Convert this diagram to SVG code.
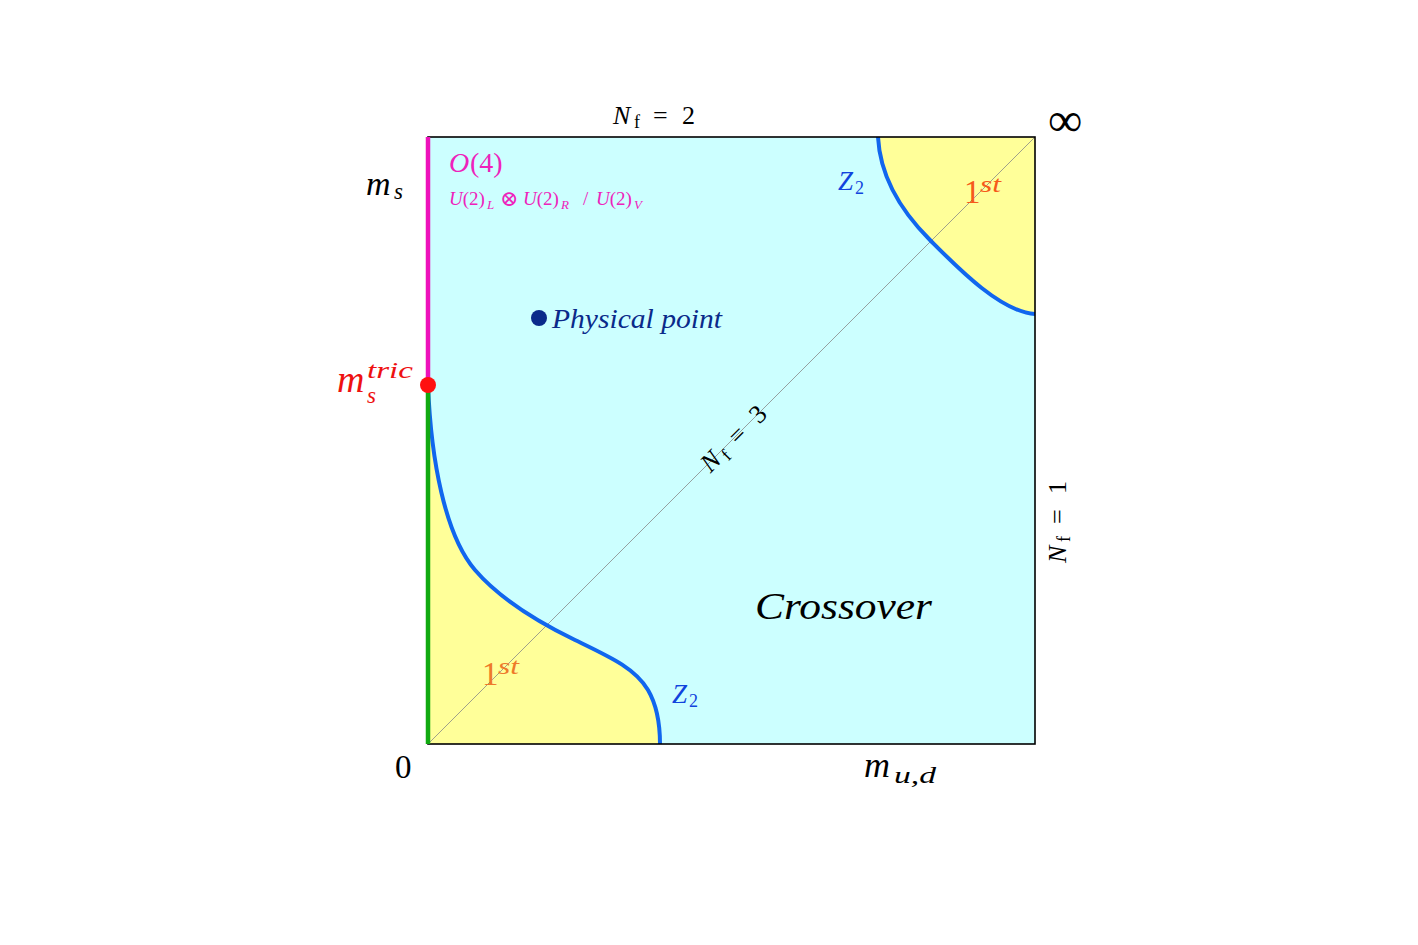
<svg xmlns="http://www.w3.org/2000/svg" width="1418" height="945" viewBox="0 0 1418 945">
<style>
.t{font-family:"Liberation Serif","DejaVu Serif",serif;fill:#000}
.i{font-style:italic}
.mag{fill:#ee22bb}
.blue{fill:#1144dd}
.org{fill:#f65a1a}
.org2{fill:#ee7a2a}
.red{fill:#ee1111}
.navy{fill:#0a2a8a}
.curve{fill:none;stroke:#1166ee;stroke-width:4}
</style>
<rect width="1418" height="945" fill="#ffffff"/>
<g id="regions">
<rect id="crossover-region" x="428" y="137" width="607" height="607" fill="#ccffff"/>
<path id="first-order-low" d="M428,385 C431,460 445,535 475,570 C500,599 540,623 575,640 C610,657 635,668 648,690 C655,702 660,720 660,744 L428,744 Z" fill="#ffff99"/>
<path id="first-order-high" d="M878,137 C880,175 900,210 930,240 C955,265 1000,312 1035,314 L1035,137 Z" fill="#ffff99"/>
</g>
<g id="connectors">
<line x1="428" y1="744" x2="1035" y2="137" stroke="#888888" stroke-width="0.8"/>
<path class="curve" d="M428,385 C431,460 445,535 475,570 C500,599 540,623 575,640 C610,657 635,668 648,690 C655,702 660,720 660,744"/>
<path class="curve" d="M878,137 C880,175 900,210 930,240 C955,265 1000,312 1035,314"/>
<rect x="428" y="137" width="607" height="607" fill="none" stroke="#000" stroke-width="1.6"/>
<line x1="428" y1="137" x2="428" y2="385" stroke="#ee11bb" stroke-width="4.5"/>
<line x1="428" y1="385" x2="428" y2="744" stroke="#11aa11" stroke-width="4.5"/>
</g>
<g id="tricritical">
<circle cx="428" cy="385" r="8" fill="#ff1111"/>
<text class="t i red" font-size="38"><tspan x="337" y="392">m</tspan><tspan x="367" y="378" font-size="24" textLength="46" lengthAdjust="spacingAndGlyphs">tric</tspan><tspan x="367" y="403" font-size="23">s</tspan></text>
</g>
<g id="physical-point">
<circle cx="539" cy="318" r="8" fill="#0a2a8a"/>
<text class="t i navy" x="552" y="328" font-size="28" textLength="170" lengthAdjust="spacingAndGlyphs">Physical point</text>
</g>
<g id="nf2">
<text class="t i" x="613" y="124" font-size="26">N</text>
<text class="t" x="634" y="128" font-size="18">f</text>
<text class="t" x="653" y="124" font-size="26">=</text>
<text class="t" x="682" y="124" font-size="26">2</text>
</g>
<g id="nf3" transform="translate(739.5,444.5) rotate(-45) translate(-41,0)">
<text class="t i" x="0" y="0" font-size="26">N</text>
<text class="t" x="21" y="4" font-size="18">f</text>
<text class="t" x="39" y="0" font-size="26">=</text>
<text class="t" x="69" y="0" font-size="26">3</text>
</g>
<g id="nf1" transform="translate(1066,522) rotate(-90) translate(-41,0)">
<text class="t i" x="0" y="0" font-size="26">N</text>
<text class="t" x="21" y="4" font-size="18">f</text>
<text class="t" x="39" y="0" font-size="26">=</text>
<text class="t" x="69" y="0" font-size="26">1</text>
</g>
<g id="infinity">
<text class="t" x="1065" y="136" font-size="48" text-anchor="middle">∞</text>
</g>
<g id="ms-axis">
<text class="t i" x="366" y="195" font-size="34">m</text>
<text class="t i" x="394" y="199" font-size="23">s</text>
</g>
<g id="o4">
<text class="t i mag" x="449" y="172" font-size="28">O</text>
<text class="t mag" x="470" y="172" font-size="28">(4)</text>
<text class="t mag" font-size="19" y="205"><tspan x="449" font-style="italic">U</tspan><tspan>(2)</tspan></text>
<text class="t i mag" x="487" y="209" font-size="13">L</text>
<text class="t mag" x="500" y="206" font-size="22">⊗</text>
<text class="t mag" font-size="19" y="205"><tspan x="523" font-style="italic">U</tspan><tspan>(2)</tspan></text>
<text class="t i mag" x="561" y="209" font-size="13">R</text>
<text class="t mag" x="583" y="205" font-size="19">/</text>
<text class="t mag" font-size="19" y="205"><tspan x="596" font-style="italic">U</tspan><tspan>(2)</tspan></text>
<text class="t i mag" x="634" y="209" font-size="13">V</text>
</g>
<g id="z2-top">
<text class="t i blue" x="838" y="190" font-size="27">Z</text>
<text class="t blue" x="855" y="194" font-size="18">2</text>
</g>
<g id="first-top">
<text class="t org" x="964" y="203" font-size="33">1</text>
<text class="t i org" x="980" y="192" font-size="24" textLength="21" lengthAdjust="spacingAndGlyphs">st</text>
</g>
<g id="first-bottom">
<text class="t org2" x="482" y="685" font-size="33">1</text>
<text class="t i org2" x="498" y="674" font-size="24" textLength="21" lengthAdjust="spacingAndGlyphs">st</text>
</g>
<g id="z2-bottom">
<text class="t i blue" x="672" y="703" font-size="27">Z</text>
<text class="t blue" x="689" y="707" font-size="18">2</text>
</g>
<g id="crossover">
<text class="t i" x="755" y="619" font-size="38" textLength="177" lengthAdjust="spacingAndGlyphs">Crossover</text>
</g>
<g id="axis-labels">
<text class="t" x="395" y="778" font-size="33">0</text>
<text class="t i" x="864" y="777" font-size="36">m</text>
<text class="t i" x="894" y="783" font-size="24" textLength="42" lengthAdjust="spacingAndGlyphs">u,d</text>
</g>
</svg>
